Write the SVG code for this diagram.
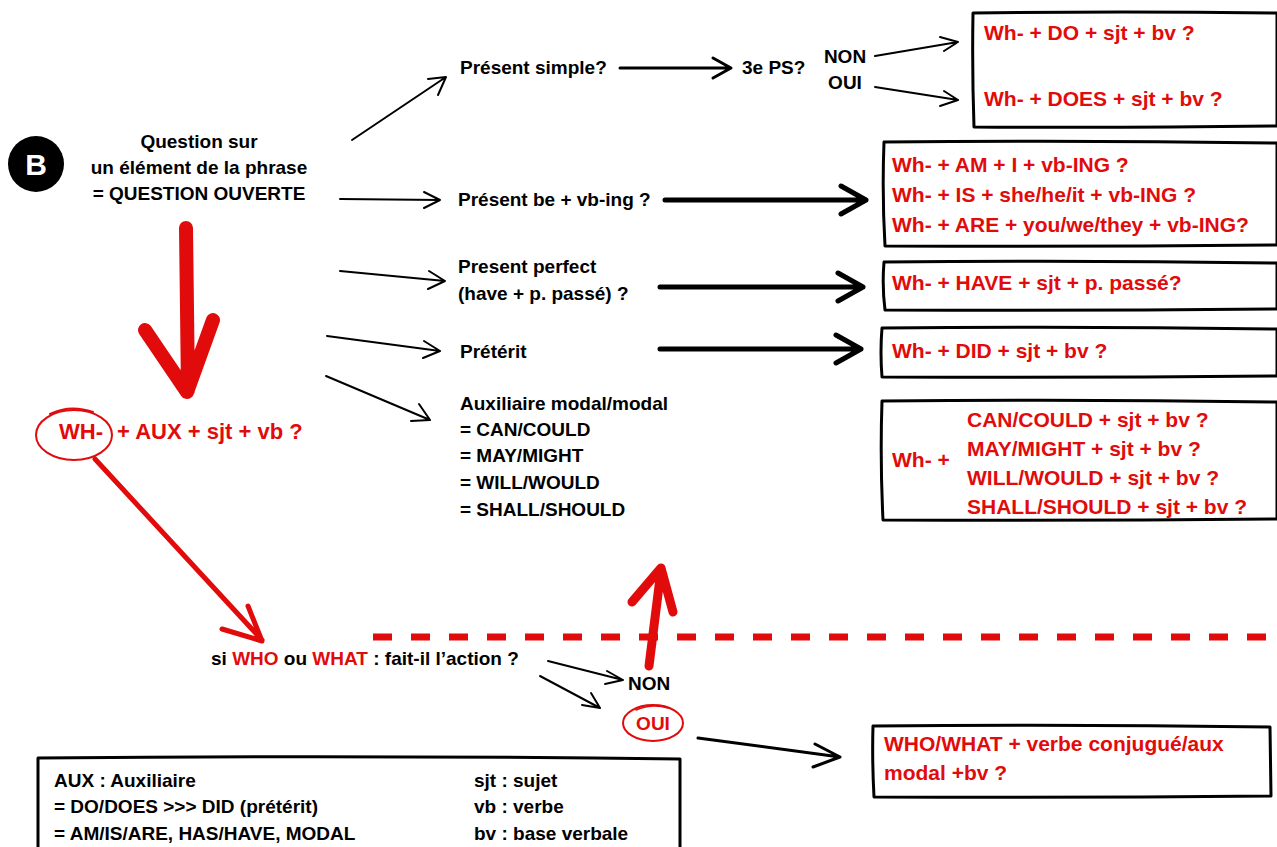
<svg xmlns="http://www.w3.org/2000/svg" width="1277" height="847" viewBox="0 0 1277 847">
<defs>
<style>
text{font-family:"Liberation Sans",Arial,sans-serif;font-weight:bold;}
.k{fill:#000;font-size:19px;}
.r{fill:#e10b0b;font-size:21px;}
.rr{fill:#e10b0b;}
.box{fill:#fff;stroke:#000;stroke-width:3;stroke-linejoin:round;}
.ln{fill:none;stroke:#000;stroke-width:2;stroke-linecap:round;stroke-linejoin:round;}
.ln3{fill:none;stroke:#000;stroke-width:3;stroke-linecap:round;stroke-linejoin:round;}
.th{fill:none;stroke:#000;stroke-width:5;stroke-linecap:round;stroke-linejoin:round;}
.red{fill:none;stroke:#e10b0b;stroke-linecap:round;stroke-linejoin:round;}
</style>
</defs>
<rect width="1277" height="847" fill="#fff"/>

<g id="connectors">
<path class="ln" d="M352,140 L446,77 M428,79 L446,77 L438,95"/>
<path class="ln3" d="M620,68 L731,68 M713,58 L731,68 L713,78"/>
<path class="ln" d="M875,56 L958,42 M940,37 L958,42 L944,51"/>
<path class="ln" d="M875,87 L958,100 M944,91 L958,100 L940,106"/>
<path class="ln" d="M340,199 L440,200 M424,192 L440,200 L424,208"/>
<path class="th" d="M665,200 L866,200 M841,186 L866,200 L841,214"/>
<path class="ln" d="M340,271 L445,281 M429,271 L445,281 L428,289"/>
<path class="th" d="M660,287 L863,287 M838,273 L863,287 L838,301"/>
<path class="ln" d="M327,336 L440,351 M424,341 L440,351 L423,358"/>
<path class="th" d="M660,349 L861,349 M836,335 L861,349 L836,363"/>
<path class="ln" d="M326,376 L430,420 M419,404 L430,420 L411,421"/>
<path class="ln" d="M548,661 L623,680 M607,671 L623,680 L605,684"/>
<path class="ln" d="M540,676 L600,708 M591,693 L600,708 L582,705"/>
<path class="ln3" d="M698,738 L840,757 M815,744 L840,757 L813,767"/>
<!-- red connectors -->
<path class="red" stroke-width="14" d="M186,228 L188,390 M145,330 L187,392 L213,320"/>
<path class="red" stroke-width="5" d="M95,459 L262,640 M222,629 L262,641 L248,606"/>
<path class="red" stroke-width="9" d="M649,666 L661,570 M632,602 L661,568 L673,612"/>
<line x1="373" y1="637" x2="1277" y2="637" stroke="#e10b0b" stroke-width="7" stroke-dasharray="19 19"/>
</g>

<g id="badge">
<circle cx="36" cy="164" r="28" fill="#000"/>
<text x="36" y="175" text-anchor="middle" style="font-size:30px;fill:#fff">B</text>
</g>

<g id="question">
<text class="k" x="199" y="148" text-anchor="middle">Question sur</text>
<text class="k" x="199" y="174" text-anchor="middle">un élément de la phrase</text>
<text class="k" x="199" y="200" text-anchor="middle">= QUESTION OUVERTE</text>
</g>

<g id="present-simple"><text class="k" x="460" y="74">Présent simple?</text></g>
<g id="ps3"><text class="k" x="742" y="74">3e PS?</text></g>
<g id="non-oui">
<text class="k" x="845" y="63" text-anchor="middle">NON</text>
<text class="k" x="845" y="89" text-anchor="middle">OUI</text>
</g>

<g id="box-do">
<path class="box" d="M973,13 Q1120,11 1277,13 L1277,126 Q1120,128 974,127 Q972,70 973,13 Z"/>
<text class="r" x="984" y="40">Wh- + DO + sjt + bv ?</text>
<text class="r" x="984" y="106">Wh- + DOES + sjt + bv ?</text>
</g>

<g id="present-be"><text class="k" x="458" y="206">Présent be + vb-ing ?</text></g>
<g id="box-be">
<path class="box" d="M884,142 Q1080,140 1277,143 L1277,245 Q1080,247 885,246 Q882,195 884,142 Z"/>
<text class="r" x="892" y="172">Wh- + AM + I + vb-ING ?</text>
<text class="r" x="892" y="202">Wh- + IS + she/he/it + vb-ING ?</text>
<text class="r" x="892" y="232">Wh- + ARE + you/we/they + vb-ING?</text>
</g>

<g id="present-perfect">
<text class="k" x="458" y="273">Present perfect</text>
<text class="k" x="458" y="300">(have + p. passé) ?</text>
</g>
<g id="box-have">
<path class="box" d="M884,262 Q1080,260 1277,263 L1277,309 Q1080,311 885,310 Q882,286 884,262 Z"/>
<text class="r" x="892" y="290">Wh- + HAVE + sjt + p. passé?</text>
</g>

<g id="preterit"><text class="k" x="460" y="358">Prétérit</text></g>
<g id="box-did">
<path class="box" d="M882,328 Q1080,326 1277,329 L1277,376 Q1080,378 882,377 Q880,352 882,328 Z"/>
<text class="r" x="892" y="358">Wh- + DID + sjt + bv ?</text>
</g>

<g id="modal">
<text class="k" x="460" y="410">Auxiliaire modal/modal</text>
<text class="k" x="460" y="436">= CAN/COULD</text>
<text class="k" x="460" y="462">= MAY/MIGHT</text>
<text class="k" x="460" y="489">= WILL/WOULD</text>
<text class="k" x="460" y="516">= SHALL/SHOULD</text>
</g>
<g id="box-modal">
<path class="box" d="M882,401 Q1080,399 1277,402 L1277,519 Q1080,521 883,520 Q880,460 882,401 Z"/>
<text class="r" x="892" y="467">Wh- +</text>
<text class="r" x="967" y="427">CAN/COULD + sjt + bv ?</text>
<text class="r" x="967" y="456">MAY/MIGHT + sjt + bv ?</text>
<text class="r" x="967" y="485">WILL/WOULD + sjt + bv ?</text>
<text class="r" x="967" y="514">SHALL/SHOULD + sjt + bv ?</text>
</g>

<g id="wh-aux">
<ellipse cx="74" cy="435" rx="38" ry="25" class="red" stroke-width="2"/>
<path class="red" stroke-width="2" d="M50,414 Q70,404 93,412"/>
<text class="rr" x="59" y="439" style="font-size:22px">WH-</text>
<text class="rr" x="117" y="439" style="font-size:22px">+ AUX + sjt + vb ?</text>
</g>

<g id="who-what">
<text class="k" x="211" y="665">si <tspan class="rr">WHO</tspan> ou <tspan class="rr">WHAT</tspan> : fait-il l’action ?</text>
</g>
<g id="non2"><text class="k" x="628" y="690">NON</text></g>
<g id="oui2">
<ellipse cx="653" cy="723" rx="30" ry="18" class="red" stroke-width="2"/>
<path class="red" stroke-width="1.5" d="M636,710 Q652,703 668,708"/>
<text class="rr" x="653" y="730" text-anchor="middle" style="font-size:19px">OUI</text>
</g>

<g id="box-who">
<path class="box" d="M873,726 Q1070,724 1270,727 L1271,796 Q1070,798 874,797 Q872,760 873,726 Z"/>
<text class="r" x="884" y="751">WHO/WHAT + verbe conjugué/aux</text>
<text class="r" x="884" y="780">modal +bv ?</text>
</g>

<g id="legend">
<path class="box" d="M38,758 Q360,755 680,759 L680,850 L38,850 Z"/>
<text class="k" x="54" y="787">AUX : Auxiliaire</text>
<text class="k" x="54" y="813">= DO/DOES &gt;&gt;&gt; DID (prétérit)</text>
<text class="k" x="54" y="840">= AM/IS/ARE, HAS/HAVE, MODAL</text>
<text class="k" x="474" y="787">sjt : sujet</text>
<text class="k" x="474" y="813">vb : verbe</text>
<text class="k" x="474" y="840">bv : base verbale</text>
</g>
</svg>
